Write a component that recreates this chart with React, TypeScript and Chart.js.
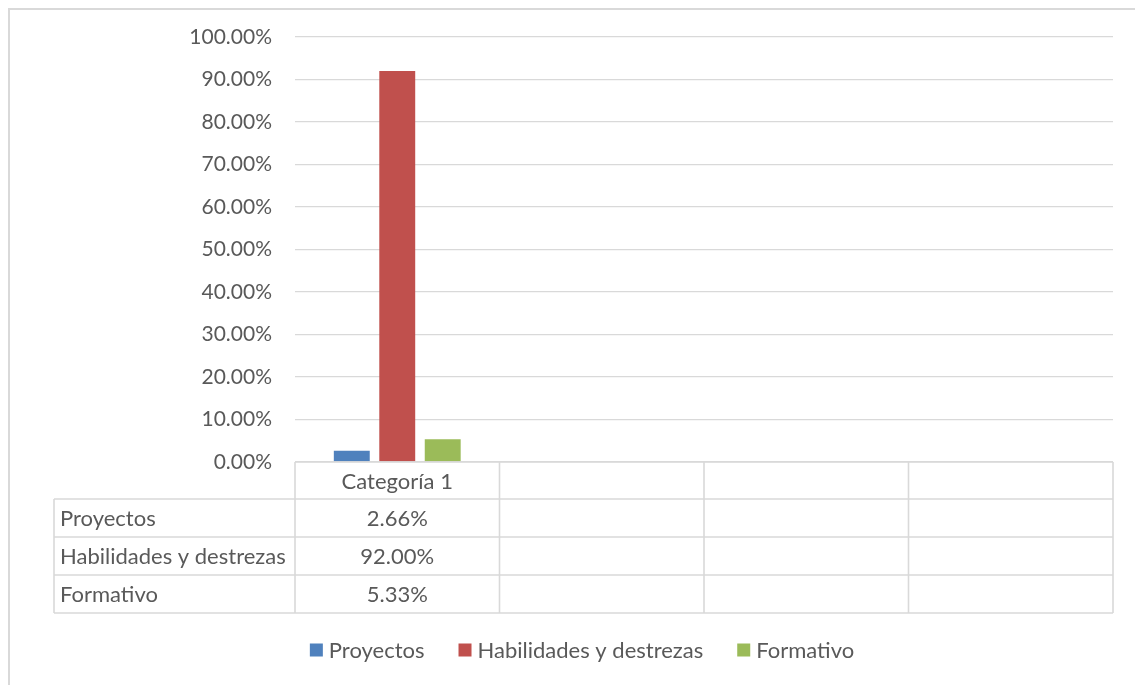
import React, { useEffect, useRef } from "react";
import { Chart, registerables } from "chart.js";

Chart.register(...registerables);

// ---- data ----
const categories = ["Categoría 1", "", "", ""];
const seriesNames = ["Proyectos", "Habilidades y destrezas", "Formativo"];
const proyectos = [2.66, null, null, null];
const habilidades = [92.0, null, null, null];
const formativo = [5.33, null, null, null];
const yTickStep = 10;
const yMin = 0;
const yMax = 100;

// ---- styles ----
const seriesColors = ["#4F81BD", "#C0504D", "#9BBB59"];
const FONT = "Lato, 'Open Sans', sans-serif";
const FONT_SIZE = 22;
const TICK_FONT_SIZE = 21;
const TEXT = "#595959";
const GRID = "#D9D9D9";
const W = 1135;
const H = 685;

const seriesValues = [proyectos, habilidades, formativo];

const fmt = (v: number | null) => (v == null ? "" : v.toFixed(2) + "%");

const excelPlugin = {
  id: "excelTable",
  beforeDraw(chart: any) {
    const ctx = chart.ctx;
    ctx.save();
    ctx.fillStyle = "#ffffff";
    ctx.fillRect(0, 0, chart.width, chart.height);
    ctx.strokeStyle = GRID;
    ctx.lineWidth = 2;
    ctx.strokeRect(9, 9, chart.width + 40, chart.height + 40);
    ctx.restore();
  },
  afterDraw(chart: any) {
    const ctx = chart.ctx;
    const { left, right, bottom } = chart.chartArea;
    const n = categories.length;
    const colW = (right - left) / n;
    const labelLeft = 54;
    const headerH = 37;
    const rowH = 38;
    const rowsTop = bottom + headerH;
    const tableBottom = rowsTop + rowH * seriesNames.length;

    ctx.save();
    ctx.strokeStyle = GRID;
    ctx.lineWidth = 1.6;
    // horizontal lines
    ctx.beginPath();
    ctx.moveTo(left, bottom);
    ctx.lineTo(right, bottom);
    for (let r = 0; r <= seriesNames.length; r++) {
      const y = rowsTop + r * rowH;
      ctx.moveTo(labelLeft, y);
      ctx.lineTo(right, y);
    }
    // vertical lines
    ctx.moveTo(labelLeft, rowsTop);
    ctx.lineTo(labelLeft, tableBottom);
    for (let i = 0; i <= n; i++) {
      const x = left + i * colW;
      ctx.moveTo(x, bottom);
      ctx.lineTo(x, tableBottom);
    }
    ctx.stroke();

    // text
    ctx.fillStyle = TEXT;
    ctx.font = `${FONT_SIZE}px ${FONT}`;
    ctx.textBaseline = "middle";
    ctx.textAlign = "center";
    categories.forEach((c, i) => {
      ctx.fillText(c, left + (i + 0.5) * colW, bottom + headerH / 2 + 1);
    });
    seriesNames.forEach((name, r) => {
      const yc = rowsTop + (r + 0.5) * rowH + 1;
      ctx.textAlign = "left";
      ctx.fillText(name, labelLeft + 6, yc);
      ctx.textAlign = "center";
      seriesValues[r].forEach((v, i) => {
        ctx.fillText(fmt(v), left + (i + 0.5) * colW, yc);
      });
    });

    // legend
    const box = 13;
    const boxGap = 6;
    const itemGap = 34;
    const widths = seriesNames.map((s) => ctx.measureText(s).width);
    const total =
      widths.reduce((a, b) => a + b, 0) +
      seriesNames.length * (box + boxGap) +
      (seriesNames.length - 1) * itemGap;
    let x = 582 - total / 2;
    const ly = 650;
    ctx.textAlign = "left";
    seriesNames.forEach((s, i) => {
      ctx.fillStyle = seriesColors[i];
      ctx.fillRect(x, ly - box / 2, box, box);
      x += box + boxGap;
      ctx.fillStyle = TEXT;
      ctx.fillText(s, x, ly + 1);
      x += widths[i] + itemGap;
    });
    ctx.restore();
  },
};

export default function App() {
  const ref = useRef<HTMLCanvasElement | null>(null);

  useEffect(() => {
    if (!ref.current) return;
    const chart = new Chart(ref.current, {
      type: "bar",
      data: {
        labels: categories,
        datasets: seriesNames.map((name, i) => ({
          label: name,
          data: seriesValues[i],
          backgroundColor: seriesColors[i],
          borderWidth: 0,
          categoryPercentage: 0.667,
          barPercentage: 0.79,
        })),
      },
      options: {
        responsive: false,
        animation: false,
        devicePixelRatio: 1,
        layout: { padding: { left: 0, top: 37, right: 22, bottom: 223 } },
        plugins: {
          legend: { display: false },
          tooltip: { enabled: false },
        },
        scales: {
          x: { display: false },
          y: {
            min: yMin,
            max: yMax,
            border: { display: false },
            grid: { color: GRID, lineWidth: 1.3, drawTicks: false },
            ticks: {
              stepSize: yTickStep,
              padding: 23,
              color: TEXT,
              font: { family: FONT, size: TICK_FONT_SIZE },
              callback: (v: any) => Number(v).toFixed(2) + "%",
            },
            afterFit: (scale: any) => {
              scale.width = 295;
            },
          },
        },
      },
      plugins: [excelPlugin],
    });
    return () => chart.destroy();
  }, []);

  return (
    <div style={{ position: "absolute", left: 0, top: 0, width: W, height: H, background: "#fff" }}>
      <canvas ref={ref} width={W} height={H} />
    </div>
  );
}
